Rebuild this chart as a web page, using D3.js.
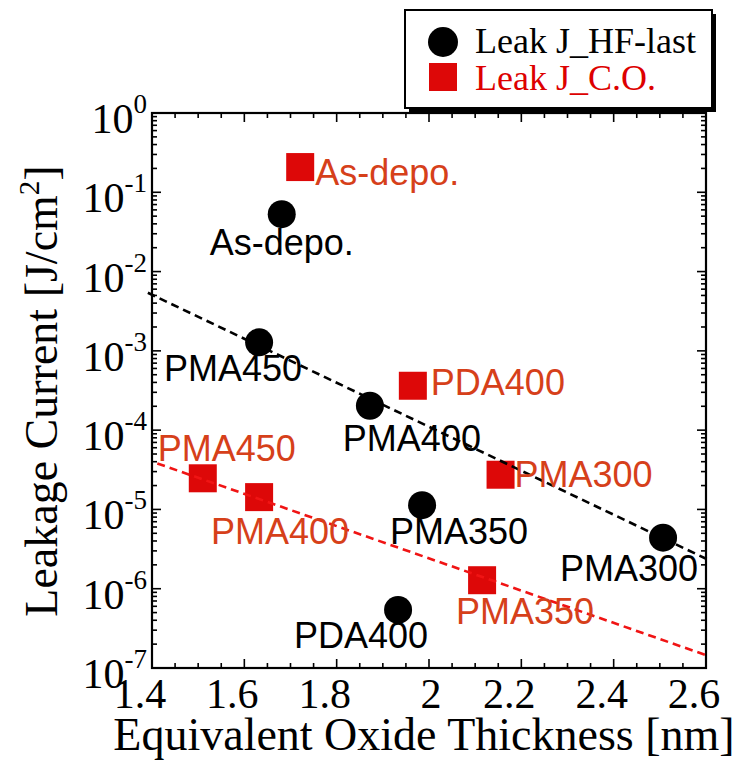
<!DOCTYPE html>
<html>
<head>
<meta charset="utf-8">
<script src="https://cdn.jsdelivr.net/npm/d3@7/dist/d3.min.js"></script>
<style>
  html, body { margin: 0; padding: 0; background: #fff; }
  svg { display: block; }
</style>
</head>
<body>
<svg id="chart" width="742" height="762"></svg>
<script>
// Leakage current vs. EOT for two cleaning processes
const hfNames   = ["As-depo.", "PMA450", "PMA400", "PMA350", "PMA300", "PDA400"];
const hfEot     = [1.681, 1.632, 1.872, 1.985, 2.507, 1.933];
const hfLeak    = [5.3e-2, 1.28e-3, 2.03e-4, 1.13e-5, 4.4e-6, 5.4e-7];

const coNames   = ["As-depo.", "PDA400", "PMA450", "PMA400", "PMA300", "PMA350"];
const coEot     = [1.721, 1.965, 1.510, 1.632, 2.155, 2.115];
const coLeak    = [2.08e-1, 3.63e-4, 2.47e-5, 1.43e-5, 2.74e-5, 1.28e-6];

// trend lines (end points)
const hfTrendEot  = [1.391, 2.606];
const hfTrendLeak = [5.4e-3, 2.3e-6];
const coTrendEot  = [1.4115, 2.599];
const coTrendLeak = [3.8e-5, 1.46e-7];

const xTickValues = [1.4, 1.6, 1.8, 2.0, 2.2, 2.4, 2.6];
const xTickLabels = ["1.4", "1.6", "1.8", "2", "2.2", "2.4", "2.6"];
const yTickValues = [1, 1e-1, 1e-2, 1e-3, 1e-4, 1e-5, 1e-6, 1e-7];
const yTickExps   = ["0", "-1", "-2", "-3", "-4", "-5", "-6", "-7"];

const seriesNames = ["Leak J_HF-last", "Leak J_C.O."];

// label placement relative to each marker: [dx, dy, anchor]
const hfLabelPos = [[0, 41, "middle"], [-26, 39, "middle"], [42, 45, "middle"],
                    [37, 39, "middle"], [-34, 43, "middle"], [-37, 38, "middle"]];
const coLabelPos = [[15, 18, "start"], [18, 9, "start"], [24, -17, "middle"],
                    [21, 47, "middle"], [14, 12, "start"], [43, 44, "middle"]];

const serif = "'Liberation Serif', 'Times New Roman', serif";
const sans  = "'Liberation Sans', Arial, sans-serif";
const colBlack = "#000";
const colSquare = "#dd0808";
const colLabelRed = "#d6401a";
const colLineRed = "#f01414";
const colLegendRed = "#dd0000";

const svg = d3.select("#chart");
const L = 152, R = 706, T = 113, B = 668;

const x = d3.scaleLinear().domain([1.4, 2.6]).range([L, R]);
const y = d3.scaleLog().domain([1e-7, 1]).range([B, T]);

// ---- ticks on all four sides, pointing inward
const ticks = svg.append("g").attr("stroke", "#000").attr("stroke-width", 1.6);
const xMinor = d3.range(0, 25).map(i => 1.4 + i * 0.05);
xMinor.forEach((v, i) => {
  const len = (i % 4 === 0) ? 9 : 5;
  const px = x(v);
  ticks.append("line").attr("x1", px).attr("x2", px).attr("y1", B).attr("y2", B - len);
  ticks.append("line").attr("x1", px).attr("x2", px).attr("y1", T).attr("y2", T + len);
});
for (let e = -7; e <= 0; e++) {
  const py = y(Math.pow(10, e));
  ticks.append("line").attr("x1", L).attr("x2", L + 9).attr("y1", py).attr("y2", py);
  ticks.append("line").attr("x1", R).attr("x2", R - 9).attr("y1", py).attr("y2", py);
  if (e < 0) {
    for (let m = 2; m <= 9; m++) {
      const pm = y(m * Math.pow(10, e));
      ticks.append("line").attr("x1", L).attr("x2", L + 5).attr("y1", pm).attr("y2", pm);
      ticks.append("line").attr("x1", R).attr("x2", R - 5).attr("y1", pm).attr("y2", pm);
    }
  }
}

// ---- frame
svg.append("rect").attr("x", L).attr("y", T).attr("width", R - L).attr("height", B - T)
  .attr("fill", "none").attr("stroke", "#000").attr("stroke-width", 2.2);

// ---- x tick labels
svg.append("g").selectAll("text").data(xTickValues).join("text")
  .attr("x", (d, i) => x(d) + (xTickLabels[i].length > 1 ? -12 : 2))
  .attr("y", 708)
  .attr("text-anchor", "middle")
  .attr("font-family", serif).attr("font-size", 42)
  .text((d, i) => xTickLabels[i]);

// ---- y tick labels 10^n
const yl = svg.append("g").selectAll("text").data(yTickValues).join("text")
  .attr("x", 147)
  .attr("y", d => y(d) + 20)
  .attr("text-anchor", "end")
  .attr("font-family", serif).attr("font-size", 42);
yl.append("tspan").text("10");
yl.append("tspan").attr("font-size", 27).attr("dy", -20).text((d, i) => yTickExps[i]);

// ---- axis titles
svg.append("text")
  .attr("x", 424).attr("y", 750)
  .attr("text-anchor", "middle")
  .attr("font-family", serif).attr("font-size", 46)
  .text("Equivalent Oxide Thickness [nm]");

const yt = svg.append("text")
  .attr("transform", "translate(57,391) rotate(-90)")
  .attr("text-anchor", "middle")
  .attr("font-family", serif).attr("font-size", 46);
yt.append("tspan").text("Leakage Current [J/cm");
yt.append("tspan").attr("font-size", 29).attr("dy", -18).text("2");
yt.append("tspan").attr("dy", 18).text("]");

// ---- markers
svg.append("g").selectAll("rect").data(coEot).join("rect")
  .attr("x", (d) => x(d) - 14)
  .attr("y", (d, i) => y(coLeak[i]) - 14)
  .attr("width", 28).attr("height", 28)
  .attr("fill", colSquare);

svg.append("g").selectAll("circle").data(hfEot).join("circle")
  .attr("cx", d => x(d))
  .attr("cy", (d, i) => y(hfLeak[i]))
  .attr("r", 14)
  .attr("fill", colBlack);

// ---- trend lines
const line = d3.line().x(d => x(d[0])).y(d => y(d[1]));
svg.append("path")
  .attr("d", line(hfTrendEot.map((v, i) => [v, hfTrendLeak[i]])))
  .attr("fill", "none").attr("stroke", "#000").attr("stroke-width", 2.6)
  .attr("stroke-dasharray", "8,5");
svg.append("path")
  .attr("d", line(coTrendEot.map((v, i) => [v, coTrendLeak[i]])))
  .attr("fill", "none").attr("stroke", colLineRed).attr("stroke-width", 2.6)
  .attr("stroke-dasharray", "8,5");

// ---- point labels
svg.append("g").selectAll("text").data(hfNames).join("text")
  .attr("x", (d, i) => x(hfEot[i]) + hfLabelPos[i][0])
  .attr("y", (d, i) => y(hfLeak[i]) + hfLabelPos[i][1])
  .attr("text-anchor", (d, i) => hfLabelPos[i][2])
  .attr("font-family", sans).attr("font-size", 36)
  .attr("fill", colBlack)
  .text(d => d);

svg.append("g").selectAll("text").data(coNames).join("text")
  .attr("x", (d, i) => x(coEot[i]) + coLabelPos[i][0])
  .attr("y", (d, i) => y(coLeak[i]) + coLabelPos[i][1])
  .attr("text-anchor", (d, i) => coLabelPos[i][2])
  .attr("font-family", sans).attr("font-size", 36)
  .attr("fill", colLabelRed)
  .text(d => d);

// ---- legend with drop shadow
const lg = svg.append("g");
lg.append("rect").attr("x", 409).attr("y", 14).attr("width", 307).attr("height", 98).attr("fill", "#000");
lg.append("rect").attr("x", 405).attr("y", 10).attr("width", 307).attr("height", 98)
  .attr("fill", "#fff").attr("stroke", "#000").attr("stroke-width", 2);
lg.append("circle").attr("cx", 443).attr("cy", 42).attr("r", 15).attr("fill", colBlack);
lg.append("rect").attr("x", 429).attr("y", 63).attr("width", 28).attr("height", 28).attr("fill", colSquare);
lg.append("text").attr("x", 475).attr("y", 53)
  .attr("font-family", serif).attr("font-size", 36).attr("fill", colBlack).text(seriesNames[0]);
lg.append("text").attr("x", 475).attr("y", 90)
  .attr("font-family", serif).attr("font-size", 36).attr("fill", colLegendRed).text(seriesNames[1]);
</script>
</body>
</html>
